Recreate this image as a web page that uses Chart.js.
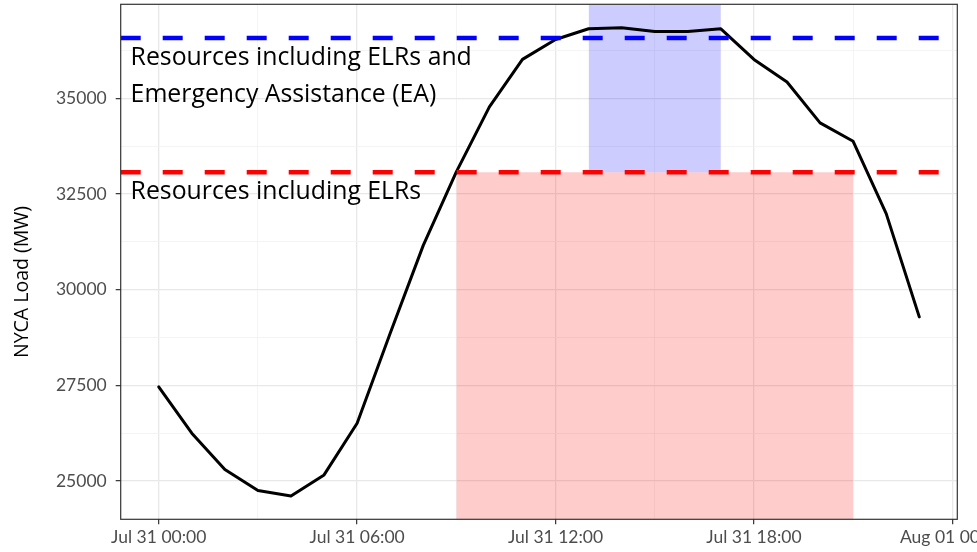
<!DOCTYPE html>
<html>
<head>
<meta charset="utf-8">
<script src="https://cdn.jsdelivr.net/npm/chart.js"></script>
<style>
  html, body { margin: 0; padding: 0; background: #fff; }
  #wrap { width: 977px; height: 552px; }
</style>
</head>
<body>
<div id="wrap"><canvas id="chart" width="977" height="552"></canvas></div>
<script>
// Hourly NYCA load, Jul 31 (hour 0 = 00:00)
const hours = [0, 1, 2, 3, 4, 5, 6, 7, 8, 9, 10, 11, 12, 13, 14, 15, 16, 17, 18, 19, 20, 21, 22, 23];
const loadMW = [27460, 26250, 25300, 24750, 24610, 25160, 26510, 28860, 31160, 33080, 34780, 36020,
                36540, 36820, 36850, 36750, 36750, 36820, 36020, 35430, 34360, 33880, 31990, 29290];

// resource levels (MW)
const levelEA = 36580;   // Resources including ELRs and EA
const levelELR = 33070;  // Resources including ELRs

// shaded windows (hours)
const elrWindow = [9, 21];
const eaWindow = [13, 17];

const xTickValues = [0, 6, 12, 18, 24];
const xTickLabels = ['Jul 31 00:00', 'Jul 31 06:00', 'Jul 31 12:00', 'Jul 31 18:00', 'Aug 01 00:00'];
const xMinorValues = [3, 9, 15, 21];
const yTickValues = [25000, 27500, 30000, 32500, 35000];
const yMinorValues = [26250, 28750, 31250, 33750, 36250];

const xRange = [-1.15, 24.15];
const yRange = [24000, 37460];

const annotations = [
  { text: 'Resources including ELRs and', x: -0.85, y: 35866 },
  { text: 'Emergency Assistance (EA)', x: -0.85, y: 34907 },
  { text: 'Resources including ELRs', x: -0.85, y: 32384 }
];

const isMajor = (vals, v) => vals.some(t => Math.abs(t - v) < 1e-6);

const overlay = {
  id: 'overlay',
  afterDraw(chart) {
    const { ctx, chartArea: a, scales: { x, y } } = chart;
    ctx.save();
    // annotation text
    ctx.fillStyle = '#000';
    ctx.font = '24.8px "Open Sans"';
    ctx.textAlign = 'left';
    ctx.textBaseline = 'alphabetic';
    annotations.forEach(n => ctx.fillText(n.text, x.getPixelForValue(n.x), y.getPixelForValue(n.y)));
    // panel border
    ctx.strokeStyle = '#333333';
    ctx.lineWidth = 1.2;
    ctx.strokeRect(a.left, a.top, a.right - a.left, a.bottom - a.top);
    // y axis title
    ctx.translate(22, 282);
    ctx.rotate(-Math.PI / 2);
    ctx.textAlign = 'center';
    ctx.textBaseline = 'middle';
    ctx.font = '19.5px "Open Sans"';
    ctx.fillText('NYCA Load (MW)', 0, 0);
    ctx.restore();
  }
};

const gridOpts = (majors) => ({
  color: c => isMajor(majors, c.tick.value) ? '#e8e8e8' : '#f1f1f1',
  lineWidth: c => isMajor(majors, c.tick.value) ? 1.3 : 0.8,
  tickColor: c => isMajor(majors, c.tick.value) ? '#333333' : 'rgba(0,0,0,0)',
  tickWidth: 1.2,
  tickLength: 5,
  drawTicks: true
});

new Chart(document.getElementById('chart').getContext('2d'), {
  type: 'line',
  data: {
    datasets: [
      {
        label: 'EA level',
        data: [{ x: xRange[0], y: levelEA }, { x: xRange[1], y: levelEA }],
        borderColor: '#0000ff', borderWidth: 4.5, borderDash: [20, 22],
        pointRadius: 0, fill: false, order: 0
      },
      {
        label: 'ELR level',
        data: [{ x: xRange[0], y: levelELR }, { x: xRange[1], y: levelELR }],
        borderColor: '#ff0000', borderWidth: 4.5, borderDash: [20, 22],
        pointRadius: 0, fill: false, order: 1
      },
      {
        label: 'NYCA Load',
        data: hours.map((h, i) => ({ x: h, y: loadMW[i] })),
        borderColor: '#000000', borderWidth: 3, borderJoinStyle: 'round', borderCapStyle: 'round',
        pointRadius: 0, fill: false, tension: 0, order: 2
      },
      {
        label: 'EA window',
        data: [{ x: eaWindow[0], y: yRange[1] }, { x: eaWindow[1], y: yRange[1] }],
        borderWidth: 0, pointRadius: 0,
        backgroundColor: 'rgba(0,0,255,0.2)', fill: { value: levelELR }, order: 3
      },
      {
        label: 'ELR window',
        data: [{ x: elrWindow[0], y: levelELR }, { x: elrWindow[1], y: levelELR }],
        borderWidth: 0, pointRadius: 0,
        backgroundColor: 'rgba(255,0,0,0.2)', fill: 'start', order: 4
      }
    ]
  },
  options: {
    responsive: false,
    animation: false,
    layout: { padding: { left: 0, top: 4.3, right: 19.7, bottom: 0 } },
    plugins: { legend: { display: false }, tooltip: { enabled: false } },
    scales: {
      x: {
        type: 'linear', min: xRange[0], max: xRange[1],
        afterBuildTicks: s => { s.ticks = xTickValues.concat(xMinorValues).sort((a, b) => a - b).map(v => ({ value: v })); },
        afterFit: s => { s.height = 32.7; s.paddingLeft = 0; s.paddingRight = 0; },
        border: { display: false },
        grid: gridOpts(xTickValues),
        ticks: {
          autoSkip: false, maxRotation: 0, padding: 3,
          color: '#4d4d4d', font: { family: 'Lato', size: 17.5 },
          callback: v => { const i = xTickValues.indexOf(v); return i >= 0 ? xTickLabels[i] : ''; }
        }
      },
      y: {
        type: 'linear', min: yRange[0], max: yRange[1],
        afterBuildTicks: s => { s.ticks = yTickValues.concat(yMinorValues).sort((a, b) => a - b).map(v => ({ value: v })); },
        afterFit: s => { s.width = 120.7; s.paddingTop = 0; s.paddingBottom = 0; },
        border: { display: false },
        grid: gridOpts(yTickValues),
        ticks: {
          autoSkip: false, padding: 9,
          color: '#4d4d4d', font: { family: 'Lato', size: 17.5 },
          callback: v => isMajor(yTickValues, v) ? String(v) : ''
        }
      }
    }
  },
  plugins: [overlay]
});
</script>
</body>
</html>
